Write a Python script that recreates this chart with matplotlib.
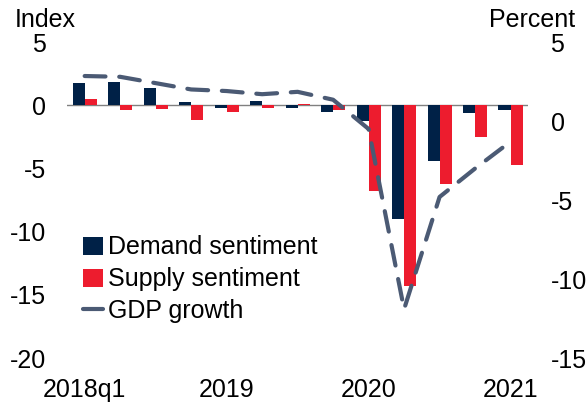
import matplotlib
matplotlib.use("Agg")
import matplotlib.pyplot as plt
import numpy as np

plt.rcParams["font.family"] = ["Liberation Sans", "DejaVu Sans"]
plt.rcParams["axes.unicode_minus"] = False

# ── Data ──
quarters = ["2018q1", "2018q2", "2018q3", "2018q4",
            "2019q1", "2019q2", "2019q3", "2019q4",
            "2020q1", "2020q2", "2020q3", "2020q4", "2021q1"]
demand = [1.75, 1.85, 1.4, 0.25, -0.25, 0.35, -0.25, -0.55,
          -1.25, -9.0, -4.4, -0.65, -0.35]
supply = [0.5, -0.4, -0.3, -1.15, -0.55, -0.2, 0.1, -0.4,
          -6.8, -14.3, -6.2, -2.5, -4.7]
gdp = [2.85, 2.8, 2.4, 2.0, 1.9, 1.7, 1.85, 1.35,
       -0.5, -11.9, -4.8, -3.0, -1.3]
tick_labels = {0: "2018q1", 4: "2019", 8: "2020", 12: "2021"}

NAVY = "#002147"
RED = "#ED1C2E"
GREY = "#4B5A74"
FS = 18

fig = plt.figure(figsize=(5.87, 4.08), dpi=100)
ax = fig.add_axes([0.114, 0.122, 0.786, 0.775])
ax2 = ax.twinx()

x = np.arange(len(quarters))
w = 0.34
ax.bar(x - w / 2, demand, w, color=NAVY, label="Demand sentiment", zorder=2)
ax.bar(x + w / 2, supply, w, color=RED, label="Supply sentiment", zorder=2)
ax.axhline(0, color="#808080", lw=1.0, zorder=1)

ln, = ax2.plot(x, gdp, color=GREY, lw=3.0, dashes=(5, 3.3),
               dash_capstyle="round", label="GDP growth")

ax.set_xlim(-0.5, 12.5)
ax.set_ylim(-20, 5)
ax2.set_ylim(-15, 5)
ax.set_yticks([5, 0, -5, -10, -15, -20])
ax2.set_yticks([5, 0, -5, -10, -15])

ax.set_xticks(list(tick_labels.keys()))
ax.set_xticklabels(list(tick_labels.values()))

for a in (ax, ax2):
    for s in a.spines.values():
        s.set_visible(False)
    a.tick_params(length=0, labelsize=FS)
ax.tick_params(axis="y", pad=15)
ax2.tick_params(axis="y", pad=16)
ax.tick_params(axis="x", pad=14)

fig.text(15 / 587, 1 - 27 / 408, "Index", fontsize=FS, ha="left", va="baseline")
fig.text(575 / 587, 1 - 27 / 408, "Percent", fontsize=FS, ha="right", va="baseline")

h1, l1 = ax.get_legend_handles_labels()
leg = ax.legend(h1 + [ln], l1 + ["GDP growth"], loc="upper left",
                bbox_to_anchor=(0.013, 0.42), frameon=False, fontsize=FS,
                handlelength=0.8, handleheight=0.75, handletextpad=0.2,
                labelspacing=0.32, borderaxespad=0)
leg.set_zorder(5)

fig.savefig("out.png", dpi=100, facecolor="white")
